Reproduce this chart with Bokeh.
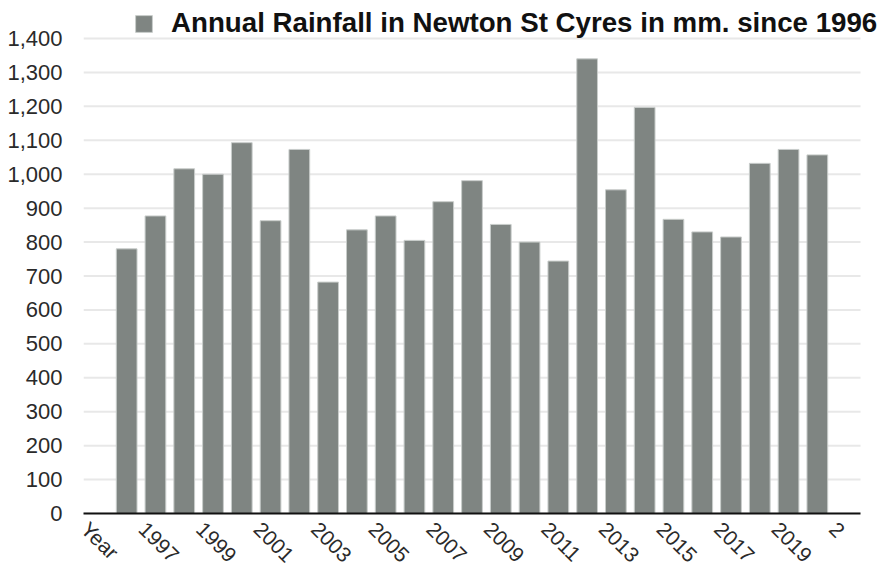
from bokeh.plotting import figure
from bokeh.models import (NumeralTickFormatter, FixedTicker, Legend, LegendItem,
                          ColumnDataSource, Range1d, LinearAxis)
from bokeh.embed import file_html
from bokeh.resources import INLINE

years = ["1996", "1997", "1998", "1999", "2000", "2001", "2002", "2003", "2004",
         "2005", "2006", "2007", "2008", "2009", "2010", "2011", "2012", "2013",
         "2014", "2015", "2016", "2017", "2018", "2019", "2020"]
rainfall = [780, 877, 1016, 1000, 1093, 863, 1073, 682, 836, 877, 805, 919, 981,
            852, 800, 744, 1340, 954, 1197, 867, 830, 815, 1032, 1073, 1057]
factors = ["Year"] + years + ["2"]
shown_labels = ["Year", "1997", "1999", "2001", "2003", "2005", "2007", "2009",
                "2011", "2013", "2015", "2017", "2019", "2"]
y_ticks = [0, 100, 200, 300, 400, 500, 600, 700, 800, 900, 1000, 1100, 1200, 1300, 1400]
series_name = "Annual Rainfall in Newton St Cyres in mm. since 1996"

FONT = "Liberation Sans"
BAR = "#7f8582"
GRID = "#e8e8e8"

# layout (pixels)
W, H = 889, 576
LEFT, BOTTOM = 83, 63
PLOT_W, PLOT_H = 777, 475          # visible chart area (gridline 0..1400)
FRAME_W, FRAME_H = W - LEFT, H - BOTTOM
slot_px = PLOT_W / len(factors)
x0 = -0.5
x1 = x0 + FRAME_W / slot_px
ymax = y_ticks[-1] * FRAME_H / PLOT_H
label_shift = 13 / slot_px

slot = {f: i for i, f in enumerate(factors)}
src = ColumnDataSource(dict(x=[slot[y] for y in years], rain=rainfall, year=years))

p = figure(x_range=Range1d(x0, x1), y_range=Range1d(0, ymax),
           frame_width=FRAME_W, frame_height=FRAME_H,
           min_border_left=LEFT, min_border_right=0, min_border_top=0,
           min_border_bottom=BOTTOM, x_axis_location=None,
           output_backend="svg", toolbar_location=None)

p.outline_line_color = None
p.xgrid.grid_line_color = None
p.ygrid.grid_line_color = None

# horizontal gridlines across the category slots
p.segment(x0=[-0.5] * len(y_ticks), x1=[len(factors) - 0.5] * len(y_ticks),
          y0=y_ticks, y1=y_ticks, line_color=GRID, line_width=2, level="underlay")

r = p.vbar(x="x", top="rain", width=0.72, source=src,
           fill_color=BAR, line_color="#c9cdcb", line_width=1)

# y axis
p.yaxis.ticker = FixedTicker(ticks=y_ticks)
p.yaxis.formatter = NumeralTickFormatter(format="0,0")
p.yaxis.axis_line_color = None
p.yaxis.major_tick_line_color = None
p.yaxis.minor_tick_line_color = None
p.yaxis.major_tick_out = 0
p.yaxis.major_tick_in = 0
p.yaxis.major_label_standoff = 21
p.yaxis.major_label_text_font = FONT
p.yaxis.major_label_text_font_size = "22px"
p.yaxis.major_label_text_color = "#2a2a2a"

# x axis on a slightly shifted range so rotated labels sit centred under slots
p.extra_x_ranges = {"lab": Range1d(x0 + label_shift, x1 + label_shift)}
xaxis = LinearAxis(x_range_name="lab",
                   ticker=FixedTicker(ticks=[slot[l] for l in shown_labels], minor_ticks=[]),
                   major_label_overrides={slot[l]: l for l in shown_labels},
                   bounds=(-0.5 + label_shift, len(factors) - 0.5 + label_shift))
xaxis.axis_line_color = "#111111"
xaxis.axis_line_width = 2
xaxis.major_tick_line_color = None
xaxis.minor_tick_line_color = None
xaxis.major_tick_out = 0
xaxis.major_tick_in = 0
xaxis.major_label_standoff = 12
xaxis.major_label_orientation = -0.785398
xaxis.major_label_text_font = FONT
xaxis.major_label_text_font_size = "21px"
xaxis.major_label_text_color = "#2a2a2a"
p.add_layout(xaxis, "below")

legend = Legend(items=[LegendItem(label=series_name, renderers=[r])],
                location=(50, FRAME_H - 39), orientation="horizontal",
                glyph_width=21, glyph_height=21, label_standoff=17,
                padding=0, margin=0, border_line_color=None,
                background_fill_alpha=0,
                label_text_font=FONT, label_text_font_style="bold",
                label_text_font_size="27.7px", label_text_color="#111111")
p.add_layout(legend)

open("out.html", "w").write(file_html(p, INLINE))
